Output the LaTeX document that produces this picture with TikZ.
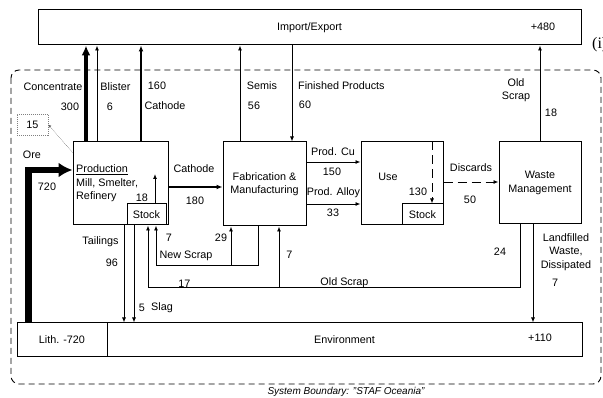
\documentclass[tikz,border=0pt]{standalone}
\usepackage{fontspec}
\setmainfont{Liberation Sans}
\newfontfamily\romanfont{Liberation Serif}
\usetikzlibrary{arrows.meta}

\tikzset{
  box/.style={draw,line width=1pt,inner sep=0pt},
  flow/.style={-{Latex[length=5pt,width=4pt]},line width=.9pt},
  dashflow/.style={flow,dash pattern=on 9pt off 5pt},
  midflow/.style={-{Latex[length=6pt,width=5pt]},line width=1.9pt},
  thickflow/.style={-{Latex[length=10pt,width=9pt]},line width=4pt},
  oreflow/.style={-{Latex[length=14pt,width=15pt]},line width=6.5pt,line join=miter},
  lbl/.style={inner sep=1pt},
}

\begin{document}
\begin{tikzpicture}[x=1pt,y=-1pt,font=\fontsize{10.8}{13.5}\selectfont]
  \useasboundingbox (0,0) rectangle (603,398);

  % system boundary
  \draw[dash pattern=on 6pt off 4pt,line width=.9pt,rounded corners=8pt] (11,70) rectangle (601,384);
  \node[lbl,font=\fontsize{10}{12}\selectfont\itshape] (sysb) at (346,392) {System Boundary: "STAF Oceania"};
  \node[lbl,anchor=west,font=\romanfont\fontsize{16}{18}\selectfont] (tag) at (591,45) {(i)};

  % reservoirs
  \node[box,minimum width=543pt,minimum height=35pt] (impexp) at (309.5,27.5) {Import/Export};
  \node[lbl] (impexpval) at (543,27) {+480};
  \node[box,minimum width=90pt,minimum height=34pt] (lith) at (62,340) {Lith. -720};
  \node[box,minimum width=475pt,minimum height=34pt] (env) at (344.5,340) {Environment};
  \node[lbl] (envval) at (540,338) {+110};

  % processes
  \node[box,minimum width=95pt,minimum height=83pt] (prod) at (120.5,183.5) {};
  \node[lbl,anchor=west,align=left] (prodtxt) at (75,183.5) {\underline{Production}\\Mill, Smelter,\\Refinery};
  \node[box,minimum width=39pt,minimum height=21pt] (prodstock) at (146.5,214.5) {Stock};
  \node[box,minimum width=83pt,minimum height=84pt,align=center] (fab) at (264.5,184) {Fabrication \&\\Manufacturing};
  \node[box,minimum width=82pt,minimum height=83pt] (use) at (402,183.5) {};
  \node[lbl] (usetxt) at (388,177) {Use};
  \node[box,minimum width=41pt,minimum height=21pt] (usestock) at (422.5,214.5) {Stock};
  \node[box,minimum width=82pt,minimum height=82pt,align=center] (waste) at (540,183) {Waste\\Management};
  \node[box,densely dotted,draw=gray,line width=.6pt,minimum width=31pt,minimum height=21pt] (stockchg) at (32.5,124.5) {15};

  % flows to import/export
  \draw[thickflow] (prod.north -| 86,0) -- (impexp.south -| 86,0);
  \draw[flow] (prod.north -| 97,0) -- (impexp.south -| 97,0);
  \draw[midflow] (prod.north -| 141,0) -- (impexp.south -| 141,0);
  \draw[flow] (fab.north -| 240,0) -- (impexp.south -| 240,0);
  \draw[flow] (impexp.south -| 292,0) -- (fab.north -| 292,0);
  \draw[flow] (waste.north) -- (waste.north |- impexp.south);

  % ore and stock change
  \draw[oreflow] (lith.north -| 28.5,0) |- ([yshift=13.5pt]prod.west);
  \draw[-{Latex[length=3pt,width=3pt]},densely dotted,gray!80!black,line width=.5pt] ([yshift=-11pt]prod.north west) -- (stockchg.east);
  \coordinate (produp) at (155,174);
  \draw[flow] (prodstock.north -| produp) -- (produp);
  \draw[dashflow] (use.north -| 432,0) -- (usestock.north -| 432,0);

  % flows between processes
  \draw[midflow] (prod.east |- 0,187) -- (fab.west |- 0,187);
  \draw[flow] (fab.east |- 0,162) -- (use.west |- 0,162);
  \draw[flow] (fab.east |- 0,204) -- (use.west |- 0,204);
  \draw[dashflow] (use.east |- 0,182) -- (waste.west |- 0,182);

  % flows to environment
  \draw[flow] (prod.south -| 124,0) -- (env.north -| 124,0);
  \draw[flow] (prod.south -| 134,0) -- (env.north -| 134,0);
  \draw[flow] (waste.south -| 533,0) -- (env.north -| 533,0);

  % scrap loops
  \coordinate (nsbend) at (258,265);
  \coordinate (nsjoin) at (231,265);
  \coordinate (nsend) at (156,265);
  \draw[flow] (fab.south -| nsbend) -- (nsbend) -- (nsend) -- (prod.south -| nsend);
  \draw[flow] (nsjoin) -- (fab.south -| nsjoin);
  \coordinate (osbend) at (520,287);
  \coordinate (osjoin) at (279,287);
  \coordinate (osend) at (148,287);
  \draw[flow] (waste.south -| osbend) -- (osbend) -- (osend) -- (prod.south -| osend);
  \draw[flow] (osjoin) -- (fab.south -| osjoin);

  % labels
  \node[lbl] (lconc) at (53,87) {Concentrate};
  \node[lbl] (vconc) at (70,107) {300};
  \node[lbl] (lblis) at (115.5,87) {Blister};
  \node[lbl] (vblis) at (110,107) {6};
  \node[lbl] (vcath) at (157,86) {160};
  \node[lbl] (lcath) at (165,106) {Cathode};
  \node[lbl] (lsemi) at (262,86) {Semis};
  \node[lbl] (vsemi) at (254,106) {56};
  \node[lbl,anchor=west] (lfin) at (297,86) {Finished Products};
  \node[lbl] (vfin) at (305,105) {60};
  \node[lbl,align=center] (loldex) at (516,90) {Old\\Scrap};
  \node[lbl] (voldex) at (551,113) {18};
  \node[lbl] (lore) at (32,155) {Ore};
  \node[lbl] (vore) at (47,187) {720};
  \node[lbl] (vprodst) at (142,198) {18};
  \node[lbl] (lcath2) at (194,169) {Cathode};
  \node[lbl] (vcath2) at (195,201) {180};
  \node[lbl] (lcu) at (333,152) {Prod. Cu};
  \node[lbl] (vcu) at (332,172) {150};
  \node[lbl] (lalloy) at (333.5,193) {Prod. Alloy};
  \node[lbl] (valloy) at (333,213) {33};
  \node[lbl] (vusest) at (418,192) {130};
  \node[lbl] (ldisc) at (471,168) {Discards};
  \node[lbl] (vdisc) at (470,200) {50};
  \node[lbl] (ltail) at (100.5,242) {Tailings};
  \node[lbl] (vtail) at (112,263) {96};
  \node[lbl] (vslag) at (142,308) {5};
  \node[lbl] (lslag) at (162,308) {Slag};
  \node[lbl] (vnsprod) at (169,238) {7};
  \node[lbl] (vnsfab) at (221,238) {29};
  \node[lbl] (lns) at (186,256) {New Scrap};
  \node[lbl] (vosfab) at (289.5,255) {7};
  \node[lbl] (vosprod) at (184.5,284) {17};
  \node[lbl] (los) at (344.5,283) {Old Scrap};
  \node[lbl] (vos) at (500,252) {24};
  \node[lbl,align=center] (lland) at (566,252) {Landfilled\\Waste,\\Dissipated};
  \node[lbl] (vland) at (555,283) {7};
\end{tikzpicture}
\end{document}
